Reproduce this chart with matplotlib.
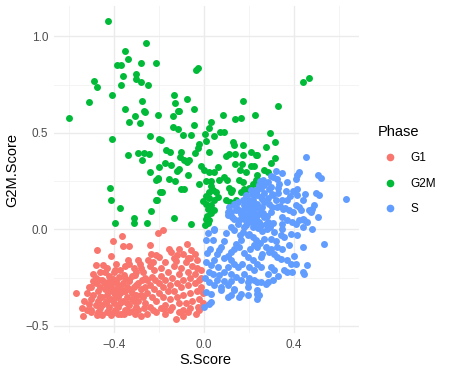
import matplotlib
matplotlib.use("Agg")
import matplotlib.pyplot as plt
from matplotlib.lines import Line2D
from matplotlib.ticker import MultipleLocator

plt.rcParams['font.family'] = ['Liberation Sans', 'DejaVu Sans']

# phase labels and colours
phases = ["G1", "G2M", "S"]
phase_colors = ["#F8766D", "#00BA38", "#619CFF"]

# (S.Score, G2M.Score)
g2m_pts = [
    (-0.423, 1.081), (-0.257, 0.965), (-0.349, 0.924), (-0.337, 0.882), (-0.384, 0.851),
    (-0.368, 0.851), (-0.278, 0.862), (-0.211, 0.862), (-0.359, 0.796), (-0.301, 0.807),
    (-0.300, 0.779), (-0.279, 0.762), (-0.248, 0.748), (-0.369, 0.746), (-0.486, 0.768),
    (-0.476, 0.737), (-0.406, 0.698), (-0.508, 0.660), (-0.272, 0.665), (-0.350, 0.622),
    (-0.266, 0.615), (-0.260, 0.606), (-0.307, 0.585), (-0.600, 0.575), (-0.204, 0.594),
    (-0.034, 0.827), (-0.025, 0.838), (-0.133, 0.696), (-0.126, 0.656), (-0.073, 0.675),
    (-0.111, 0.615), (-0.044, 0.623), (0.173, 0.667), (0.086, 0.594), (0.226, 0.591),
    (-0.137, 0.585), (0.440, 0.765), (0.468, 0.786), (0.329, 0.637), (-0.334, 0.554),
    (-0.282, 0.549), (-0.408, 0.468), (-0.238, 0.482), (-0.198, 0.468), (-0.337, 0.385),
    (-0.291, 0.397), (-0.263, 0.394), (-0.244, 0.389), (-0.272, 0.359), (-0.238, 0.297),
    (-0.198, 0.323), (-0.213, 0.258), (-0.201, 0.266), (-0.415, 0.214), (-0.412, 0.154),
    (-0.372, 0.110), (-0.213, 0.152), (-0.235, 0.097), (-0.194, 0.193), (-0.310, 0.057),
    (-0.393, 0.035), (-0.309, 0.035), (-0.250, 0.033), (-0.112, 0.613), (0.140, 0.570),
    (0.164, 0.575), (-0.135, 0.532), (-0.112, 0.522), (-0.044, 0.540), (0.022, 0.527),
    (0.034, 0.556), (-0.093, 0.491), (-0.058, 0.487), (0.004, 0.496), (0.047, 0.485),
    (0.072, 0.503), (0.090, 0.503), (-0.189, 0.465), (0.010, 0.458), (-0.019, 0.444),
    (-0.025, 0.423), (0.130, 0.454), (0.136, 0.435), (0.173, 0.437), (-0.167, 0.413),
    (-0.149, 0.399), (-0.101, 0.399), (-0.105, 0.375), (-0.037, 0.395), (0.025, 0.403),
    (0.113, 0.392), (0.140, 0.392), (0.099, 0.378), (0.175, 0.385), (0.211, 0.403),
    (0.232, 0.385), (-0.087, 0.361), (-0.064, 0.358), (-0.075, 0.349), (-0.171, 0.343),
    (-0.146, 0.335), (-0.108, 0.315), (-0.120, 0.302), (-0.012, 0.326), (0.140, 0.337),
    (0.170, 0.337), (0.210, 0.326), (0.222, 0.330), (0.003, 0.306), (0.025, 0.297),
    (0.047, 0.297), (0.063, 0.323), (0.161, 0.306), (0.187, 0.297), (-0.070, 0.283),
    (-0.204, 0.263), (-0.152, 0.259), (-0.126, 0.249), (0.069, 0.254), (0.091, 0.271),
    (0.102, 0.254), (0.032, 0.250), (0.010, 0.250), (0.158, 0.254), (0.175, 0.245),
    (0.232, 0.258), (0.239, 0.280), (-0.019, 0.237), (0.032, 0.223), (0.043, 0.202),
    (0.054, 0.193), (0.025, 0.193), (0.111, 0.216), (0.121, 0.193), (0.128, 0.202),
    (-0.087, 0.207), (-0.185, 0.193), (0.180, 0.211), (0.202, 0.216), (0.217, 0.233),
    (0.165, 0.193), (0.187, 0.202), (0.010, 0.171), (0.022, 0.164), (0.062, 0.167),
    (0.047, 0.150), (-0.004, 0.147), (0.010, 0.133), (0.032, 0.124), (0.099, 0.150),
    (0.117, 0.142), (-0.208, 0.154), (0.018, 0.107), (0.047, 0.098), (0.032, 0.084),
    (0.143, 0.150), (-0.130, 0.061), (0.010, 0.055), (0.025, 0.047), (0.018, 0.033),
    (0.294, 0.501), (0.317, 0.454), (0.276, 0.427), (0.238, 0.387), (0.319, 0.368),
    (0.301, 0.346), (0.267, 0.306), (0.285, 0.295), (0.236, 0.254), (-0.056, 0.026),
    (-0.100, 0.210), (0.005, 0.020), (0.015, 0.070),
]

s_pts = [
    (0.453, 0.375), (0.424, 0.297), (0.416, 0.280), (0.409, 0.263), (0.510, 0.280),
    (0.521, 0.268), (0.634, 0.157), (0.306, 0.271), (0.325, 0.263), (0.368, 0.245),
    (0.335, 0.233), (0.264, 0.258), (0.416, 0.211), (0.501, 0.188), (0.512, 0.176),
    (0.450, 0.181), (0.382, 0.173), (0.416, 0.176), (0.291, 0.211), (0.303, 0.185),
    (0.246, 0.219), (0.239, 0.176), (0.261, 0.159), (0.323, 0.154), (0.347, 0.154),
    (0.490, 0.124), (0.480, 0.107), (0.468, 0.098), (0.409, 0.124), (0.424, 0.116),
    (0.431, 0.098), (0.353, 0.104), (0.379, 0.098), (0.397, 0.090), (0.303, 0.116),
    (0.298, 0.090), (0.439, 0.055), (0.446, 0.047), (0.409, 0.030), (0.508, 0.064),
    (0.372, 0.047), (0.347, 0.030), (0.261, 0.116), (0.269, 0.064), (0.246, 0.081),
    (0.284, 0.038), (0.306, 0.033), (0.298, 0.275), (0.286, 0.245), (0.330, 0.216),
    (0.254, 0.216), (0.232, 0.202), (0.213, 0.185), (0.187, 0.167), (0.173, 0.150),
    (0.151, 0.142), (0.136, 0.133), (0.113, 0.116), (0.217, 0.150), (0.239, 0.133),
    (0.269, 0.142), (0.372, 0.150), (0.475, 0.090), (0.143, 0.098), (0.121, 0.090),
    (0.106, 0.073), (0.165, 0.081), (0.195, 0.073), (0.224, 0.081), (0.327, 0.116),
    (0.350, 0.064), (0.394, 0.038), (0.424, 0.047), (0.439, 0.012), (0.136, 0.055),
    (0.158, 0.047), (0.180, 0.055), (0.210, 0.047), (0.232, 0.055), (0.151, 0.030),
    (0.187, 0.021), (0.217, 0.012), (0.254, 0.021), (0.276, 0.030), (0.121, 0.012),
    (0.136, -0.005), (0.173, -0.014), (0.202, -0.022), (0.047, 0.004), (0.044, -0.005),
    (0.313, -0.014), (0.342, -0.031), (0.357, -0.040), (0.387, -0.022), (0.416, -0.031),
    (0.439, -0.092), (0.534, -0.078), (0.379, -0.083), (0.327, -0.092), (0.217, -0.040),
    (0.232, -0.057), (0.224, -0.083), (0.239, -0.092), (0.165, -0.057), (0.143, -0.074),
    (0.158, -0.092), (0.136, -0.100), (0.121, -0.118), (0.077, -0.092), (0.069, -0.109),
    (0.040, -0.057), (0.010, -0.057), (0.276, -0.092), (0.291, -0.118), (0.261, -0.126),
    (0.254, -0.144), (0.313, -0.126), (0.327, -0.144), (0.342, -0.152), (0.372, -0.161),
    (0.387, -0.178), (0.357, -0.212), (0.372, -0.221), (0.394, -0.221), (0.461, -0.187),
    (0.439, -0.221), (0.446, -0.230), (0.298, -0.195), (0.313, -0.212), (0.284, -0.230),
    (0.195, -0.144), (0.217, -0.161), (0.239, -0.178), (0.202, -0.195), (0.224, -0.212),
    (0.254, -0.195), (0.121, -0.161), (0.136, -0.178), (0.151, -0.195), (0.106, -0.195),
    (0.091, -0.221), (0.121, -0.230), (0.143, -0.247), (0.047, -0.161), (0.032, -0.187),
    (0.010, -0.169), (0.062, -0.195), (0.040, -0.230), (0.069, -0.238), (0.165, -0.264),
    (0.195, -0.273), (0.224, -0.264), (0.254, -0.273), (0.276, -0.281), (0.025, -0.273),
    (0.047, -0.290), (0.077, -0.299), (0.106, -0.290), (0.136, -0.307), (0.010, -0.325),
    (0.032, -0.333), (0.121, -0.342), (0.165, -0.333), (0.195, -0.342), (0.239, -0.333),
    (0.239, -0.316), (0.003, -0.402), (0.025, -0.385), (0.032, -0.377), (0.106, -0.351),
    (0.158, -0.351), (0.239, -0.359), (0.246, -0.342), (0.284, -0.273), (0.239, -0.273),
    (0.077, -0.316), (0.136, -0.316), (0.195, -0.299), (0.106, 0.090), (0.143, 0.116),
    (0.158, 0.098), (0.180, 0.124), (0.202, 0.150), (0.224, 0.176), (0.239, 0.202),
    (0.246, 0.228), (0.210, 0.202), (0.187, 0.176), (0.128, 0.064), (0.173, 0.064),
    (0.195, 0.081), (0.217, 0.098), (0.232, 0.064), (0.246, 0.038), (0.202, 0.038),
    (0.180, 0.100), (0.200, 0.110), (0.215, 0.125), (0.230, 0.110), (0.250, 0.100),
    (0.265, 0.085), (0.280, 0.070), (0.195, 0.130), (0.255, 0.170), (0.270, 0.190),
    (0.285, 0.160), (0.200, 0.060), (0.225, 0.030), (0.240, 0.005), (0.260, -0.010),
    (0.280, 0.000), (0.295, 0.010), (0.300, -0.050), (0.270, -0.050), (0.250, -0.070),
    (0.195, -0.030), (0.180, 0.010), (0.160, -0.030), (0.100, -0.020), (0.090, -0.060),
    (0.110, -0.140), (0.090, -0.150), (0.060, -0.130), (0.030, -0.100), (0.020, -0.020),
    (0.015, -0.120), (0.025, -0.220), (0.005, -0.250), (0.060, -0.260), (0.090, -0.270),
    (0.120, -0.270), (0.180, -0.230), (0.200, -0.250), (0.170, -0.180), (0.180, -0.120),
    (0.205, -0.100), (0.300, -0.100), (0.320, -0.060), (0.350, -0.100), (0.400, -0.140),
    (0.410, -0.180), (0.330, -0.240), (0.310, -0.260), (0.350, 0.000), (0.365, 0.200),
    (0.395, 0.200), (0.440, 0.150), (0.460, 0.040), (0.480, 0.000), (0.340, 0.120),
    (0.310, 0.180), (0.330, 0.190), (0.360, 0.110), (0.300, 0.220), (0.320, 0.300),
    (0.350, 0.290), (0.270, 0.230), (0.250, 0.250), (0.290, 0.130),
]

g1_pts = [
    (-0.204, -0.019), (-0.182, -0.005), (-0.363, -0.036), (-0.402, -0.062), (-0.359, -0.088),
    (-0.330, -0.088), (-0.239, -0.083), (-0.473, -0.109), (-0.411, -0.140), (-0.337, -0.157),
    (-0.330, -0.178), (-0.281, -0.181), (-0.233, -0.126), (-0.211, -0.135), (-0.197, -0.144),
    (-0.248, -0.157), (-0.226, -0.169), (-0.152, -0.100), (-0.145, -0.118), (-0.108, -0.100),
    (-0.074, -0.074), (-0.056, -0.109), (-0.039, -0.126), (-0.071, -0.147), (-0.118, -0.135),
    (-0.123, -0.164), (-0.477, -0.187), (-0.446, -0.187), (-0.566, -0.330), (-0.535, -0.447),
    (-0.123, -0.463), (-0.034, -0.440), (-0.393, -0.209), (-0.467, -0.264), (-0.445, -0.273),
    (-0.423, -0.273), (-0.401, -0.256), (-0.378, -0.247), (-0.356, -0.238), (-0.334, -0.264),
    (-0.304, -0.238), (-0.275, -0.261), (-0.253, -0.264), (-0.230, -0.247), (-0.216, -0.264),
    (-0.511, -0.389), (-0.499, -0.420), (-0.474, -0.446), (-0.452, -0.446), (-0.423, -0.423),
    (-0.393, -0.416), (-0.356, -0.440), (-0.341, -0.416), (-0.312, -0.423), (-0.278, -0.449),
    (-0.263, -0.406), (-0.223, -0.420), (-0.071, -0.428), (-0.027, -0.402), (-0.093, -0.420),
    (-0.175, -0.411), (-0.307, -0.437), (-0.366, -0.437), (-0.411, -0.446), (-0.455, -0.437),
    (-0.50, -0.30), (-0.49, -0.34), (-0.48, -0.28), (-0.47, -0.32), (-0.47, -0.37),
    (-0.46, -0.30), (-0.46, -0.41), (-0.45, -0.35), (-0.44, -0.31), (-0.44, -0.38),
    (-0.43, -0.29), (-0.43, -0.34), (-0.42, -0.32), (-0.42, -0.40), (-0.41, -0.36),
    (-0.41, -0.29), (-0.40, -0.33), (-0.40, -0.38), (-0.39, -0.31), (-0.39, -0.27),
    (-0.38, -0.35), (-0.38, -0.40), (-0.37, -0.30), (-0.37, -0.33), (-0.36, -0.37),
    (-0.36, -0.28), (-0.35, -0.32), (-0.35, -0.42), (-0.34, -0.35), (-0.34, -0.30),
    (-0.33, -0.39), (-0.33, -0.27), (-0.32, -0.33), (-0.32, -0.36), (-0.31, -0.30),
    (-0.30, -0.40), (-0.30, -0.34), (-0.29, -0.28), (-0.29, -0.37), (-0.28, -0.31),
    (-0.27, -0.35), (-0.27, -0.22), (-0.26, -0.30), (-0.26, -0.38), (-0.25, -0.33),
    (-0.24, -0.29), (-0.24, -0.40), (-0.23, -0.35), (-0.22, -0.31), (-0.22, -0.21),
    (-0.21, -0.37), (-0.20, -0.33), (-0.20, -0.28), (-0.19, -0.24), (-0.19, -0.41),
    (-0.18, -0.30), (-0.18, -0.35), (-0.17, -0.26), (-0.17, -0.39), (-0.16, -0.32),
    (-0.16, -0.22), (-0.15, -0.36), (-0.15, -0.29), (-0.14, -0.25), (-0.14, -0.40),
    (-0.13, -0.32), (-0.13, -0.19), (-0.12, -0.35), (-0.12, -0.28), (-0.11, -0.23),
    (-0.11, -0.38), (-0.10, -0.30), (-0.10, -0.20), (-0.09, -0.34), (-0.09, -0.26),
    (-0.08, -0.17), (-0.08, -0.38), (-0.07, -0.29), (-0.07, -0.22), (-0.06, -0.33),
    (-0.06, -0.25), (-0.05, -0.19), (-0.05, -0.37), (-0.04, -0.28), (-0.04, -0.23),
    (-0.03, -0.32), (-0.03, -0.16), (-0.02, -0.26), (-0.02, -0.36), (-0.01, -0.21),
    (-0.01, -0.30), (-0.48, -0.25), (-0.45, -0.26), (-0.44, -0.22), (-0.42, -0.24),
    (-0.40, -0.22), (-0.37, -0.21), (-0.35, -0.25), (-0.32, -0.24), (-0.30, -0.22),
    (-0.28, -0.20), (-0.26, -0.25), (-0.50, -0.36), (-0.49, -0.27), (-0.48, -0.39),
    (-0.46, -0.35), (-0.45, -0.39), (-0.44, -0.28), (-0.43, -0.37), (-0.41, -0.31),
    (-0.40, -0.27), (-0.39, -0.35), (-0.38, -0.29), (-0.37, -0.38), (-0.36, -0.32),
    (-0.34, -0.38), (-0.33, -0.31), (-0.31, -0.37), (-0.30, -0.29), (-0.28, -0.34),
    (-0.52, -0.33), (-0.51, -0.30), (-0.53, -0.37), (-0.54, -0.41), (-0.52, -0.42),
    (-0.50, -0.43), (-0.47, -0.43), (-0.43, -0.43), (-0.40, -0.43), (-0.38, -0.44),
    (-0.33, -0.43), (-0.29, -0.42), (-0.25, -0.44), (-0.21, -0.43), (-0.17, -0.44),
    (-0.15, -0.42), (-0.11, -0.43), (-0.09, -0.45), (-0.06, -0.41), (-0.02, -0.42),
    (-0.005, -0.38), (-0.005, -0.33), (-0.01, -0.25), (-0.03, -0.20), (-0.06, -0.15),
    (-0.09, -0.13), (-0.13, -0.15), (-0.17, -0.17), (-0.19, -0.20), (-0.24, -0.19),
    (-0.29, -0.16), (-0.31, -0.20), (-0.35, -0.19), (-0.39, -0.18), (-0.43, -0.20),
    (-0.46, -0.22), (-0.49, -0.23),
]

x_ticks = [-0.4, 0.0, 0.4]
y_ticks = [-0.5, 0.0, 0.5, 1.0]


def main():
    fig = plt.figure(figsize=(4.5, 3.73), dpi=100)
    ax = fig.add_axes([54 / 450, 40 / 373, 305 / 450, 327 / 373])

    for pts, col in zip([g1_pts, g2m_pts, s_pts], phase_colors):
        xs = [p[0] for p in pts]
        ys = [p[1] for p in pts]
        ax.scatter(xs, ys, s=25, c=col, linewidths=0, zorder=3)

    ax.set_xlim(-0.665, 0.69)
    ax.set_ylim(-0.537, 1.157)
    ax.set_xticks(x_ticks)
    ax.set_yticks(y_ticks)
    ax.set_xticklabels(["\u22120.4", "0.0", "0.4"])
    ax.set_yticklabels(["\u22120.5", "0.0", "0.5", "1.0"])
    ax.xaxis.set_minor_locator(MultipleLocator(0.2))
    ax.yaxis.set_minor_locator(MultipleLocator(0.25))
    ax.grid(True, which='major', color='#EBEBEB', lw=1.0, zorder=0)
    ax.grid(True, which='minor', color='#F2F2F2', lw=0.6, zorder=0)
    ax.set_axisbelow(True)
    ax.tick_params(which='both', length=0, labelsize=8.5, labelcolor='#4D4D4D', pad=4)
    for sp in ax.spines.values():
        sp.set_visible(False)

    fig.text(205 / 450, 1 - 360 / 373, "S.Score", ha='center', va='center', fontsize=10.5)
    fig.text(12 / 450, 1 - 170 / 373, "G2M.Score", ha='center', va='center',
             rotation=90, fontsize=10.5)

    handles = [Line2D([], [], marker='o', ls='', color=c, markersize=4.5) for c in phase_colors]
    leg = fig.legend(handles, phases, title="Phase", loc='upper left',
                     bbox_to_anchor=(373 / 450, 1 - 120 / 373), frameon=False,
                     fontsize=8.5, title_fontsize=10.5, handletextpad=0.8,
                     labelspacing=1.15, borderaxespad=0)
    leg._legend_box.align = "left"

    fig.savefig("out.png", dpi=100)
    return 0


if __name__ == '__main__':
    main()
